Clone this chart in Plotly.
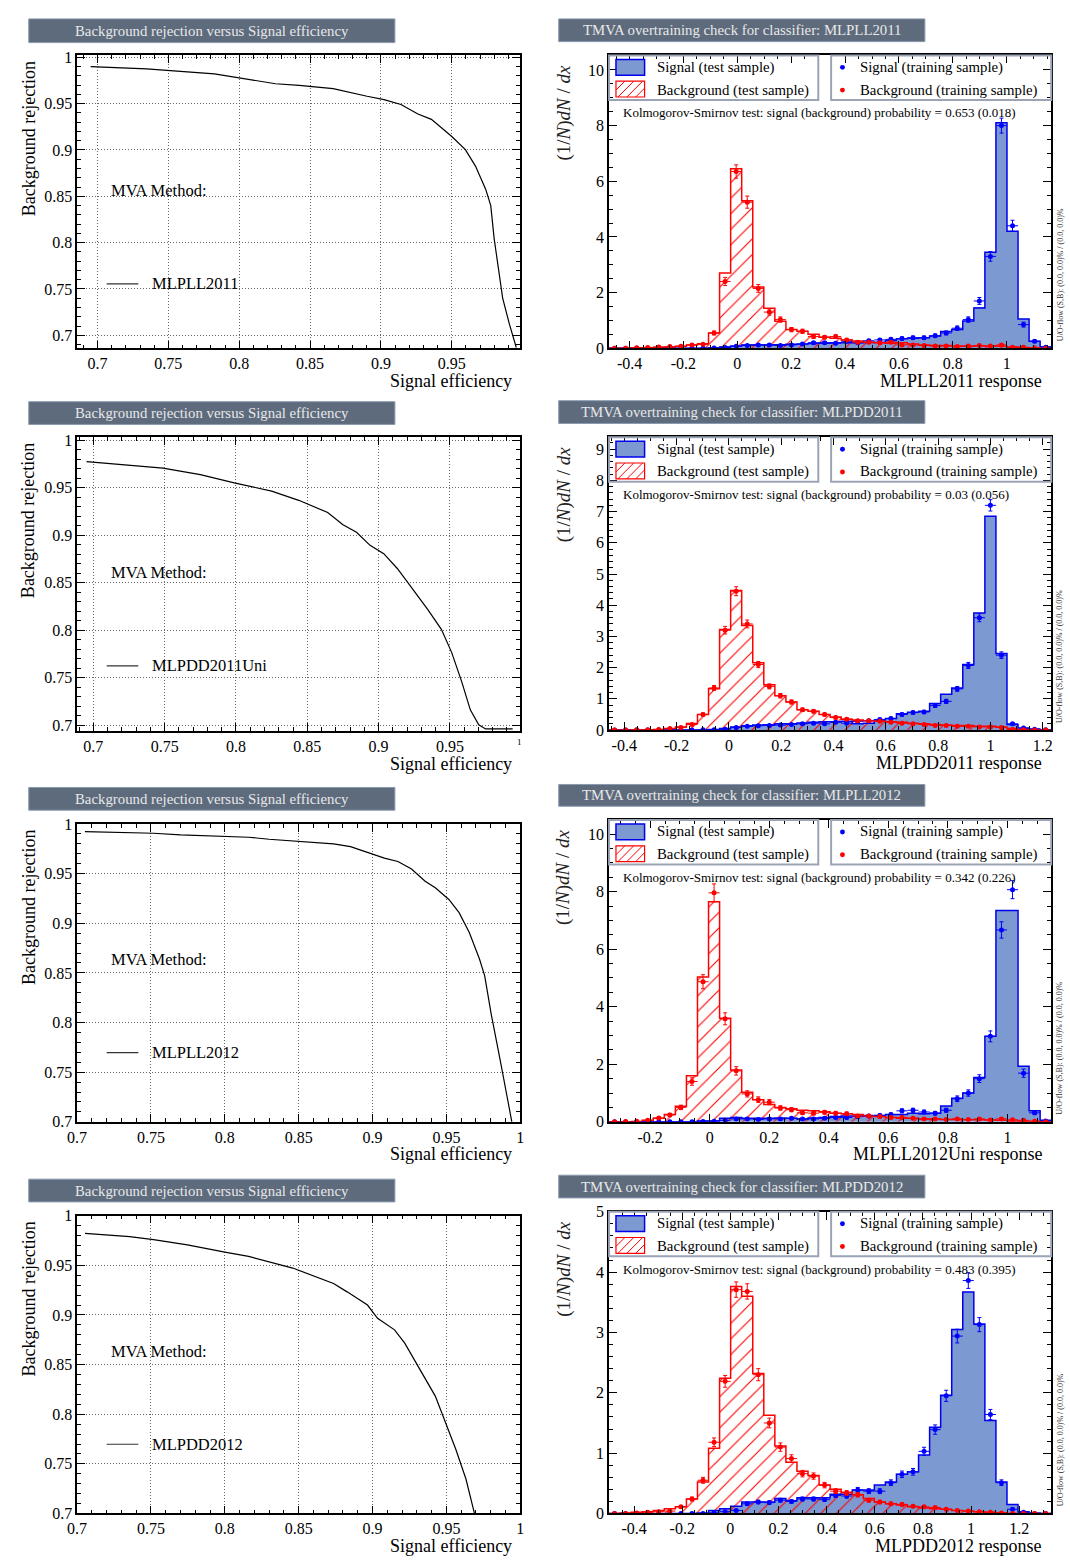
import numpy as np
import plotly.graph_objects as go

W, H = 1070, 1566
SERIF = "Liberation Serif"

# ---------------- ROC curves (background rejection vs signal efficiency) ----------------
roc_methods = ["MLPLL2011", "MLPDD2011Uni", "MLPLL2012", "MLPDD2012"]

roc1_eff = [0.6952, 0.7347, 0.7825, 0.7993, 0.8256, 0.8423, 0.8663, 0.8902, 0.9022, 0.9141, 0.9261,
            0.9356, 0.95, 0.9596, 0.9667, 0.9739, 0.9775, 0.9799, 0.9835, 0.9859, 0.9907, 0.9955]
roc1_rej = [0.990, 0.9875, 0.9822, 0.9779, 0.9715, 0.9698, 0.9662, 0.958, 0.9544, 0.9491, 0.9388,
            0.9331, 0.9146, 0.9004, 0.8826, 0.8577, 0.8399, 0.8043, 0.7687, 0.7402, 0.7117, 0.6868]

roc2_eff = [0.6952, 0.725, 0.7488, 0.775, 0.7988, 0.825, 0.844, 0.8643, 0.875, 0.8845, 0.894,
            0.9036, 0.9131, 0.9226, 0.9345, 0.944, 0.9512, 0.9583, 0.9643, 0.9702, 0.975, 0.994]
roc2_rej = [0.9775, 0.974, 0.9706, 0.9637, 0.955, 0.9464, 0.9367, 0.9239, 0.9111, 0.9031, 0.8893,
            0.8806, 0.865, 0.846, 0.8218, 0.801, 0.7768, 0.7457, 0.7163, 0.7007, 0.6962, 0.6962]

roc3_eff = [0.7053, 0.7517, 0.7701, 0.7931, 0.8161, 0.8299, 0.8506, 0.8736, 0.8851, 0.8989, 0.908,
            0.9172, 0.9264, 0.9356, 0.9425, 0.9517, 0.9586, 0.9655, 0.9724, 0.9759, 0.9805, 0.9862, 0.9943]
roc3_rej = [0.9923, 0.9907, 0.989, 0.988, 0.9867, 0.9847, 0.9823, 0.98, 0.9773, 0.9707, 0.9657,
            0.9623, 0.9547, 0.9423, 0.9357, 0.924, 0.9107, 0.8907, 0.864, 0.8473, 0.8073, 0.764, 0.70]

roc4_eff = [0.7053, 0.7356, 0.7517, 0.7747, 0.8, 0.8161, 0.846, 0.8736, 0.8828, 0.892, 0.8966,
            0.9034, 0.908, 0.9149, 0.9218, 0.931, 0.9425, 0.9494, 0.9563, 0.9632, 0.969]
roc4_rej = [0.9823, 0.979, 0.976, 0.9707, 0.9633, 0.959, 0.9473, 0.9317, 0.9233, 0.915, 0.91,
            0.8967, 0.8917, 0.885, 0.8717, 0.8483, 0.8183, 0.7917, 0.765, 0.735, 0.70]

roc_xranges = [(0.6856, 0.9983), (0.6886, 0.9993), (0.7, 1.0), (0.7, 1.0)]
roc_yranges = [(0.686, 1.002), (0.694, 1.003), (0.7, 1.0), (0.7, 1.0)]
roc_tick_vals = [0.7, 0.75, 0.8, 0.85, 0.9, 0.95, 1.0]
roc_tick_text = ["0.7", "0.75", "0.8", "0.85", "0.9", "0.95", "1"]

# ---------------- Overtraining check histograms (40 bins each) ----------------
hist_classifiers = ["MLPLL2011", "MLPDD2011", "MLPLL2012", "MLPDD2012"]
hist_xtitles = ["MLPLL2011 response", "MLPDD2011 response", "MLPLL2012Uni response", "MLPDD2012 response"]
ks_sig = ["0.653", "0.03", "0.342", "0.483"]
ks_bkg = ["0.018", "0.056", "0.226", "0.395"]
hist_xranges = [(-0.476, 1.165), (-0.458, 1.232), (-0.338, 1.147), (-0.504, 1.333)]
hist_ymax = [10.52, 9.38, 10.49, 5.0]
hist_ydtick = [2, 1, 2, 1]
hist_yminor = [0.5, 0.2, 0.5, 0.2]
hist_stat_scale = [0.095, 0.068, 0.11, 0.066]

h1_sig_test = [0, 0, 0, 0, 0, 0, 0, 0, 0, 0.01, 0.05, 0.08, 0.12, 0.12, 0.12, 0.13, 0.14, 0.15, 0.17, 0.18,
               0.2, 0.2, 0.2, 0.21, 0.22, 0.28, 0.34, 0.36, 0.38, 0.44, 0.6, 0.67, 0.98, 1.45, 3.45, 8.1, 4.2, 1.05, 0.25, 0.05]
h1_sig_train = [0, 0, 0, 0, 0, 0, 0, 0, 0, 0.01, 0.03, 0.07, 0.1, 0.12, 0.12, 0.1, 0.12, 0.15, 0.2, 0.2,
                0.18, 0.25, 0.2, 0.27, 0.3, 0.32, 0.35, 0.38, 0.38, 0.45, 0.55, 0.72, 1.03, 1.7, 3.3, 8.0, 4.4, 0.85, 0.25, 0.04]
h1_bkg_test = [0, 0, 0, 0.01, 0.03, 0.04, 0.07, 0.12, 0.16, 0.55, 2.7, 6.45, 5.3, 2.2, 1.44, 0.97, 0.67, 0.61, 0.5, 0.4,
               0.36, 0.3, 0.26, 0.22, 0.2, 0.18, 0.2, 0.15, 0.12, 0.1, 0.1, 0.08, 0.07, 0.08, 0.08, 0.07, 0.05, 0.02, 0.01, 0]
h1_bkg_train = [0, 0, 0.02, 0.03, 0.05, 0.06, 0.07, 0.12, 0.14, 0.55, 2.4, 6.35, 5.25, 2.15, 1.3, 1.03, 0.67, 0.61, 0.42, 0.4,
                0.42, 0.3, 0.22, 0.22, 0.2, 0.22, 0.12, 0.12, 0.1, 0.08, 0.08, 0.06, 0.08, 0.1, 0.08, 0.12, 0.04, 0.04, 0.01, 0]

h2_sig_test = [0, 0, 0, 0, 0, 0, 0, 0, 0, 0.02, 0.05, 0.1, 0.14, 0.16, 0.17, 0.2, 0.2, 0.23, 0.25, 0.27,
               0.27, 0.28, 0.2, 0.22, 0.32, 0.37, 0.52, 0.57, 0.6, 0.85, 1.15, 1.35, 2.1, 3.75, 6.85, 2.45, 0.18, 0.06, 0.03, 0.01]
h2_sig_train = [0, 0, 0, 0, 0, 0, 0, 0, 0.01, 0.01, 0.03, 0.08, 0.12, 0.14, 0.15, 0.16, 0.18, 0.2, 0.22, 0.2,
                0.25, 0.22, 0.28, 0.3, 0.34, 0.37, 0.5, 0.56, 0.58, 0.79, 0.92, 1.32, 2.07, 3.6, 7.2, 2.4, 0.2, 0.07, 0.03, 0.01]
h2_bkg_test = [0, 0, 0, 0, 0.02, 0.05, 0.1, 0.21, 0.5, 1.32, 3.22, 4.47, 3.35, 2.16, 1.45, 1.1, 0.9, 0.65, 0.6, 0.5,
               0.42, 0.35, 0.32, 0.3, 0.28, 0.27, 0.25, 0.22, 0.2, 0.18, 0.16, 0.15, 0.15, 0.12, 0.12, 0.1, 0.05, 0.02, 0.01, 0]
h2_bkg_train = [0, 0, 0.01, 0.01, 0.02, 0.05, 0.08, 0.18, 0.5, 1.35, 3.2, 4.45, 3.4, 2.1, 1.4, 1.1, 0.9, 0.65, 0.6, 0.5,
                0.4, 0.35, 0.3, 0.3, 0.28, 0.25, 0.22, 0.2, 0.18, 0.15, 0.15, 0.12, 0.12, 0.1, 0.1, 0.08, 0.02, 0.01, 0, 0]

h3_sig_test = [0, 0, 0, 0, 0, 0, 0, 0, 0.03, 0.03, 0.12, 0.15, 0.12, 0.12, 0.12, 0.13, 0.12, 0.1, 0.13, 0.15,
               0.18, 0.2, 0.2, 0.22, 0.22, 0.25, 0.25, 0.3, 0.28, 0.3, 0.55, 0.82, 1.0, 1.54, 2.97, 7.35, 7.35, 1.93, 0.38, 0.05]
h3_sig_train = [0, 0, 0, 0, 0, 0, 0, 0, 0.01, 0.02, 0.05, 0.1, 0.1, 0.08, 0.1, 0.1, 0.12, 0.1, 0.1, 0.12,
                0.15, 0.15, 0.18, 0.2, 0.22, 0.25, 0.38, 0.4, 0.34, 0.3, 0.4, 0.8, 1.0, 1.5, 2.97, 6.67, 8.07, 1.69, 0.31, 0.03]
h3_bkg_test = [0, 0, 0, 0.05, 0.12, 0.25, 0.54, 1.6, 5.03, 7.65, 3.6, 1.8, 1.03, 0.77, 0.6, 0.5, 0.45, 0.4, 0.38, 0.35,
               0.3, 0.28, 0.25, 0.2, 0.18, 0.15, 0.12, 0.12, 0.1, 0.1, 0.08, 0.08, 0.07, 0.07, 0.06, 0.05, 0.03, 0.02, 0.01, 0]
h3_bkg_train = [0, 0.01, 0.02, 0.05, 0.13, 0.24, 0.5, 1.4, 4.87, 7.96, 3.58, 1.77, 0.97, 0.77, 0.68, 0.48, 0.42, 0.31, 0.3, 0.33,
                0.3, 0.28, 0.2, 0.2, 0.18, 0.15, 0.15, 0.12, 0.1, 0.1, 0.08, 0.1, 0.08, 0.1, 0.06, 0.1, 0.07, 0.05, 0.02, 0]

h4_sig_test = [0, 0, 0, 0, 0, 0, 0, 0, 0.01, 0.05, 0.08, 0.12, 0.19, 0.19, 0.19, 0.25, 0.21, 0.26, 0.26, 0.26,
               0.32, 0.32, 0.39, 0.39, 0.47, 0.52, 0.65, 0.69, 0.97, 1.43, 1.96, 3.05, 3.67, 3.14, 1.54, 0.52, 0.15, 0.03, 0.01, 0]
h4_sig_train = [0, 0, 0, 0, 0, 0, 0, 0, 0, 0.01, 0.03, 0.05, 0.16, 0.19, 0.18, 0.22, 0.2, 0.24, 0.24, 0.23,
                0.3, 0.29, 0.39, 0.37, 0.37, 0.51, 0.65, 0.69, 1.03, 1.39, 1.95, 2.94, 3.86, 3.13, 1.64, 0.51, 0.07, 0.02, 0, 0]
h4_bkg_test = [0, 0.01, 0.02, 0.03, 0.05, 0.08, 0.11, 0.24, 0.52, 1.08, 2.24, 3.76, 3.6, 2.32, 1.63, 1.12, 0.85, 0.7, 0.63, 0.47,
               0.4, 0.35, 0.31, 0.25, 0.19, 0.16, 0.14, 0.11, 0.09, 0.08, 0.07, 0.05, 0.04, 0.03, 0.02, 0.01, 0, 0, 0, 0]
h4_bkg_train = [0, 0, 0.01, 0.02, 0.03, 0.04, 0.11, 0.24, 0.55, 1.18, 2.19, 3.71, 3.68, 2.3, 1.5, 1.1, 0.91, 0.66, 0.62, 0.47,
                0.37, 0.34, 0.31, 0.22, 0.19, 0.16, 0.15, 0.12, 0.11, 0.1, 0.07, 0.05, 0.04, 0.03, 0.02, 0.01, 0, 0, 0, 0]

hist_xtickvals = [[-0.4, -0.2, 0, 0.2, 0.4, 0.6, 0.8, 1.0],
                  [-0.4, -0.2, 0, 0.2, 0.4, 0.6, 0.8, 1.0, 1.2],
                  [-0.2, 0, 0.2, 0.4, 0.6, 0.8, 1.0],
                  [-0.4, -0.2, 0, 0.2, 0.4, 0.6, 0.8, 1.0, 1.2]]
hist_xticktext = [["-0.4", "-0.2", "0", "0.2", "0.4", "0.6", "0.8", "1"],
                  ["-0.4", "-0.2", "0", "0.2", "0.4", "0.6", "0.8", "1", "1.2"],
                  ["-0.2", "0", "0.2", "0.4", "0.6", "0.8", "1"],
                  ["-0.4", "-0.2", "0", "0.2", "0.4", "0.6", "0.8", "1", "1.2"]]

# ---------------- styling / geometry ----------------
SIG_FILL = "#7d99d1"
SIG_LINE = "#0000ee"
BKG_LINE = "#ff0000"
TITLE_FILL = "#5d6b7d"
TITLE_TEXT = "#e8e8e8"

LEFT_X = (68, 517)
RIGHT_X = (607, 1055)
LEFT_ROWS = [(48, 344), (434, 731), (825, 1126), (1221, 1522)]
RIGHT_ROWS = [(48, 344), (434, 730), (821, 1126), (1217, 1522)]
LEFT_TITLE_Y = [(11, 35), (398, 421), (788, 811), (1184, 1207)]
RIGHT_TITLE_Y = [(11, 34), (397, 420), (785, 807), (1180, 1203)]


def PX(x):
    return x / W


def PY(y):
    return 1 - y / H


def axkey(kind, n):
    return kind + "axis" + ("" if n == 1 else str(n))


def tref(kind, n):
    return kind + ("" if n == 1 else str(n))


fig = go.Figure()
shapes = []
annotations = []
layout = dict(width=W, height=H, margin=dict(l=0, r=0, t=0, b=0),
              paper_bgcolor="white", plot_bgcolor="white", showlegend=False,
              barmode="overlay", bargap=0, font=dict(family=SERIF, color="black"))


def ann(text, x, y, size, xanchor="left", yanchor="middle", angle=0, color="black"):
    annotations.append(dict(text=text, x=PX(x), y=PY(y), xref="paper", yref="paper",
                            xanchor=xanchor, yanchor=yanchor, textangle=angle, showarrow=False,
                            font=dict(family=SERIF, size=size, color=color), borderpad=0))


def title_box(x0, x1, y0, y1, text, size):
    shapes.append(dict(type="rect", xref="paper", yref="paper", x0=PX(x0), x1=PX(x1), y0=PY(y1), y1=PY(y0),
                       fillcolor=TITLE_FILL, line=dict(color="#8a9ab0", width=1), layer="above"))
    ann(text, (x0 + x1) / 2, (y0 + y1) / 2, size, xanchor="center", color=TITLE_TEXT)


def hatch_rect(x0, y0, x1, y1, spacing, color):
    h = y1 - y0
    t = x0 - h
    while t < x1:
        s0 = max(0.0, (x0 - t) / h)
        s1 = min(1.0, (x1 - t) / h)
        if s1 > s0:
            xa, ya = t + s0 * h, y1 - s0 * h
            xb, yb = t + s1 * h, y1 - s1 * h
            shapes.append(dict(type="line", xref="paper", yref="paper", x0=PX(xa), y0=PY(ya),
                               x1=PX(xb), y1=PY(yb), line=dict(color=color, width=1)))
        t += spacing
    shapes.append(dict(type="rect", xref="paper", yref="paper", x0=PX(x0), x1=PX(x1), y0=PY(y1), y1=PY(y0),
                       line=dict(color=color, width=1.2)))


base_axis = dict(showline=True, linecolor="black", linewidth=1.5, mirror="ticks", ticks="inside",
                 ticklen=8, tickwidth=1, tickcolor="black", zeroline=False,
                 tickfont=dict(family=SERIF, size=16, color="black"))

roc_eff = [roc1_eff, roc2_eff, roc3_eff, roc4_eff]
roc_rej = [roc1_rej, roc2_rej, roc3_rej, roc4_rej]
h_sig_test = [h1_sig_test, h2_sig_test, h3_sig_test, h4_sig_test]
h_sig_train = [h1_sig_train, h2_sig_train, h3_sig_train, h4_sig_train]
h_bkg_test = [h1_bkg_test, h2_bkg_test, h3_bkg_test, h4_bkg_test]
h_bkg_train = [h1_bkg_train, h2_bkg_train, h3_bkg_train, h4_bkg_train]

for i in range(4):
    # ================= ROC panel =================
    n = 2 * i + 1
    top, bot = LEFT_ROWS[i]
    xr, yr = roc_xranges[i], roc_yranges[i]
    minor_x = [round(v, 3) for v in np.arange(0.69, 1.0001, 0.01) if xr[0] <= v <= xr[1]]
    minor_y = [round(v, 3) for v in np.arange(0.69, 1.0001, 0.01) if yr[0] <= v <= yr[1]]
    xt = [(v, t) for v, t in zip(roc_tick_vals, roc_tick_text) if xr[0] - 1e-9 <= v <= xr[1] + 1e-9]
    if i == 1:
        xt = [(v, t) for v, t in xt if v < 0.999]
    yt = [(v, t) for v, t in zip(roc_tick_vals, roc_tick_text) if yr[0] - 1e-9 <= v <= yr[1] + 1e-9]
    layout[axkey("x", n)] = dict(base_axis, domain=[PX(LEFT_X[0]), PX(LEFT_X[1])], range=list(xr),
                                 anchor=tref("y", n), tickmode="array",
                                 tickvals=[v for v, _ in xt], ticktext=[t for _, t in xt],
                                 showgrid=True, gridcolor="#666666", griddash="1px,2px", gridwidth=1,
                                 minor=dict(ticks="inside", ticklen=4, tickcolor="black", tickwidth=1,
                                            tickvals=minor_x, showgrid=False))
    layout[axkey("y", n)] = dict(base_axis, domain=[PY(bot), PY(top)], range=list(yr),
                                 anchor=tref("x", n), tickmode="array",
                                 tickvals=[v for v, _ in yt], ticktext=[t for _, t in yt],
                                 showgrid=True, gridcolor="#666666", griddash="1px,2px", gridwidth=1,
                                 minor=dict(ticks="inside", ticklen=4, tickcolor="black", tickwidth=1,
                                            tickvals=minor_y, showgrid=False))
    fig.add_trace(go.Scatter(x=roc_eff[i], y=roc_rej[i], mode="lines", line=dict(color="black", width=1.2),
                             xaxis=tref("x", n), yaxis=tref("y", n), hoverinfo="skip"))
    title_box(19, 390, LEFT_TITLE_Y[i][0], LEFT_TITLE_Y[i][1], "Background rejection versus Signal efficiency", 14.8)
    ann("Background rejection", 19, top + 84, 18, xanchor="center", yanchor="middle", angle=-90)
    ann("Signal efficiency", 510, bot + 33, 18, xanchor="right")
    ann("MVA Method:", 101, top + 137, 16.5)
    shapes.append(dict(type="line", xref="paper", yref="paper", x0=PX(98), x1=PX(130),
                       y0=PY(top + 231), y1=PY(top + 231), line=dict(color="#333333", width=1.2)))
    ann(roc_methods[i], 143, top + 231, 16.5)
    if i == 1:
        ann("1", 516, bot + 11, 9, xanchor="center")

    # ================= Overtraining histogram panel =================
    n = 2 * i + 2
    top, bot = RIGHT_ROWS[i]
    x0, x1 = hist_xranges[i]
    edges = np.linspace(x0, x1, 41)
    centers = 0.5 * (edges[:-1] + edges[1:])
    bw = edges[1] - edges[0]
    xa, ya = tref("x", n), tref("y", n)
    minor_hx = [round(v, 3) for v in np.arange(-0.5, 1.4, 0.05) if x0 <= v <= x1]
    minor_hy = [round(v, 3) for v in np.arange(0, hist_ymax[i], hist_yminor[i])]
    layout[axkey("x", n)] = dict(base_axis, domain=[PX(RIGHT_X[0]), PX(RIGHT_X[1])], range=[x0, x1],
                                 anchor=ya, tickmode="array", tickvals=hist_xtickvals[i],
                                 ticktext=hist_xticktext[i], showgrid=False,
                                 minor=dict(ticks="inside", ticklen=4, tickcolor="black", tickwidth=1,
                                            tickvals=minor_hx, showgrid=False))
    layout[axkey("y", n)] = dict(base_axis, domain=[PY(bot), PY(top)], range=[0, hist_ymax[i]],
                                 anchor=xa, tickmode="linear", tick0=0, dtick=hist_ydtick[i], showgrid=False,
                                 minor=dict(ticks="inside", ticklen=4, tickcolor="black", tickwidth=1,
                                            tickvals=minor_hy, showgrid=False))

    st = h_sig_test[i]
    bt = h_bkg_test[i]
    fig.add_trace(go.Bar(x=centers, y=st, width=bw, marker=dict(color=SIG_FILL, line=dict(width=0)),
                         xaxis=xa, yaxis=ya, hoverinfo="skip"))
    fig.add_trace(go.Scatter(x=edges, y=list(st) + [st[-1]], mode="lines", line_shape="hv",
                             line=dict(color=SIG_LINE, width=1.5), xaxis=xa, yaxis=ya, hoverinfo="skip"))
    fig.add_trace(go.Bar(x=centers, y=bt, width=bw,
                         marker=dict(color=BKG_LINE, line=dict(width=0),
                                     pattern=dict(shape="/", size=11, solidity=0.1, fillmode="replace")),
                         xaxis=xa, yaxis=ya, hoverinfo="skip"))
    fig.add_trace(go.Scatter(x=edges, y=list(bt) + [bt[-1]], mode="lines", line_shape="hv",
                             line=dict(color=BKG_LINE, width=1.5), xaxis=xa, yaxis=ya, hoverinfo="skip"))
    for vals, col in ((h_sig_train[i], "#0000ff"), (h_bkg_train[i], "#ff0000")):
        err = [hist_stat_scale[i] * np.sqrt(v) for v in vals]
        fig.add_trace(go.Scatter(x=centers, y=vals, mode="markers",
                                 marker=dict(color=col, size=5),
                                 error_x=dict(type="constant", value=bw / 2, thickness=1, width=0, color=col),
                                 error_y=dict(type="data", array=err, thickness=1, width=2, color=col),
                                 xaxis=xa, yaxis=ya, hoverinfo="skip", cliponaxis=True))

    title_box(556, 927, RIGHT_TITLE_Y[i][0], RIGHT_TITLE_Y[i][1],
              "TMVA overtraining check for classifier: " + hist_classifiers[i], 14.8)
    ann("(1/<i>N</i>)<i>dN</i> / <i>dx</i>", 561, top + 58, 19, xanchor="center", angle=-90, color="#222222")
    ann(hist_xtitles[i], 1047, bot + 33, 18, xanchor="right")
    ann("U/O-flow (S,B): (0.0, 0.0)% / (0.0, 0.0)%", 1064, bot - 74, 8, xanchor="center", angle=-90,
        color="#333333")
    # legend boxes
    lb = top + 45
    shapes.append(dict(type="rect", xref="paper", yref="paper", x0=PX(RIGHT_X[0]), x1=PX(819),
                       y0=PY(lb), y1=PY(top), line=dict(color="#9aa4b6", width=2)))
    shapes.append(dict(type="rect", xref="paper", yref="paper", x0=PX(832), x1=PX(RIGHT_X[1]),
                       y0=PY(lb), y1=PY(top), line=dict(color="#9aa4b6", width=2)))
    shapes.append(dict(type="rect", xref="paper", yref="paper", x0=PX(614), x1=PX(643),
                       y0=PY(top + 20), y1=PY(top + 4), fillcolor=SIG_FILL, line=dict(color=SIG_LINE, width=1.5)))
    hatch_rect(614, top + 26, 643, top + 42, 9, BKG_LINE)
    ann("Signal (test sample)", 655, top + 12, 14.8)
    ann("Background (test sample)", 655, top + 35, 14.8)
    for yy, col in ((top + 12, "#0000ff"), (top + 35, "#ff0000")):
        shapes.append(dict(type="circle", xref="paper", yref="paper", x0=PX(841), x1=PX(846),
                           y0=PY(yy + 2.5), y1=PY(yy - 2.5), fillcolor=col, line=dict(color=col, width=0)))
    ann("Signal (training sample)", 860, top + 12, 14.8)
    ann("Background (training sample)", 860, top + 35, 14.8)
    ann("Kolmogorov-Smirnov test: signal (background) probability = %s (%s)" % (ks_sig[i], ks_bkg[i]),
        620, top + 58, 13)

layout["shapes"] = shapes
layout["annotations"] = annotations
fig.update_layout(**layout)
fig.write_html("out.html",
               post_script="document.body.style.margin='0';document.body.style.padding='0';"
                           "document.documentElement.style.margin='0';document.body.style.overflow='hidden';")
